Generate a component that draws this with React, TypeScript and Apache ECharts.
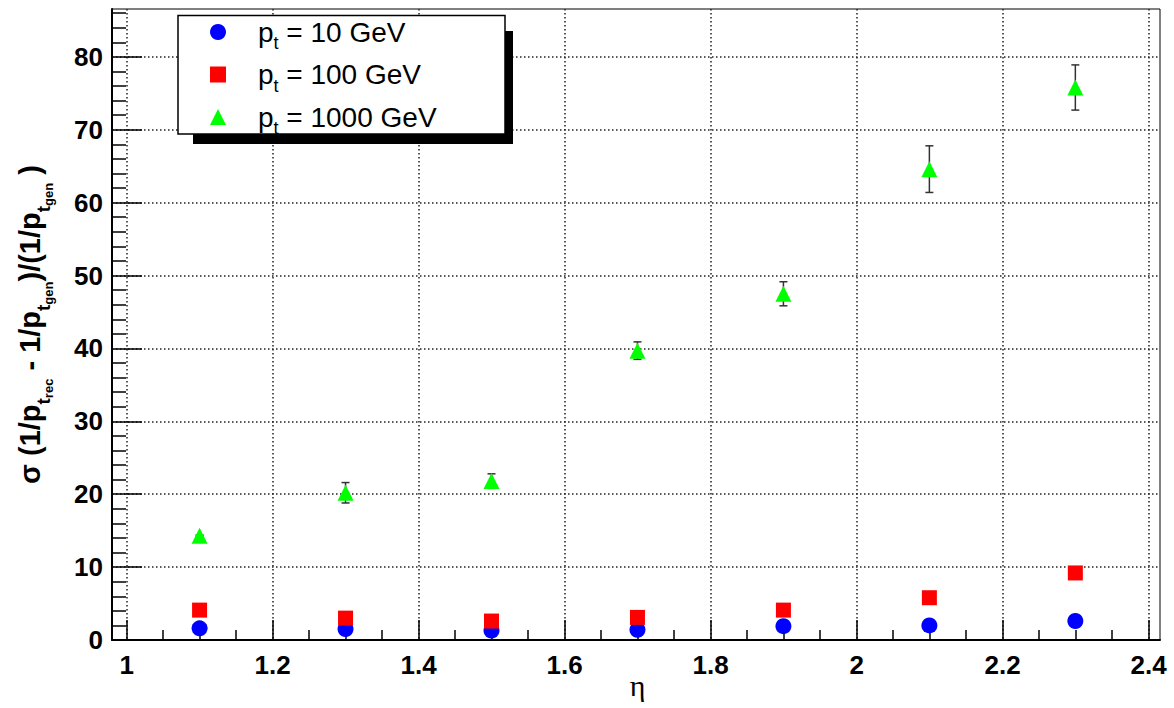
import React, { useEffect, useRef } from "react";
import * as echarts from "echarts";

// ---- data ----
const eta = [1.1, 1.3, 1.5, 1.7, 1.9, 2.1, 2.3];
const pt10 = [1.6, 1.5, 1.3, 1.4, 1.9, 2.0, 2.6];
const pt100 = [4.1, 3.0, 2.6, 3.1, 4.1, 5.8, 9.2];
const pt1000 = [14.3, 20.2, 21.8, 39.7, 47.5, 64.6, 75.8];
const err1000 = [0.1, 1.4, 1.0, 1.2, 1.65, 3.2, 3.1];
const ptLabels = ["10", "100", "1000"];
const seriesNames = ptLabels.map((v) => `p_t = ${v} GeV`);

const FONT = "'Liberation Sans', Arial, Helvetica, sans-serif";

export default function App() {
  const ref = useRef<HTMLDivElement>(null);

  useEffect(() => {
    if (!ref.current) return;
    const chart = echarts.init(ref.current, undefined, { renderer: "svg" });

    const tickLabel = {
      fontFamily: FONT,
      fontSize: 26,
      fontWeight: "bold" as const,
      color: "#000",
    };
    const dotted = { color: "#222", type: [1.5, 2.5] as number[], width: 1.5 };

    const option: any = {
      animation: false,
      backgroundColor: "#fff",
      grid: [
        // data grid (the frame)
        { left: 112, top: 9, width: 1048, height: 631, show: true, borderColor: "#000", borderWidth: 1, backgroundColor: "transparent", outerBoundsMode: "none", containLabel: false },
        // x display grid (1 .. 2.4)
        { left: 126.7, top: 9, width: 1022, height: 631, outerBoundsMode: "none", containLabel: false },
        // y display grid (0 .. 90)
        { left: 112, top: -16, width: 1048, height: 656, outerBoundsMode: "none", containLabel: false },
      ],
      xAxis: [
        {
          type: "value", gridIndex: 0, min: 0.98, max: 2.416,
          axisLine: { show: true, onZero: false, lineStyle: { color: "#000", width: 2 } },
          axisTick: { show: false }, axisLabel: { show: false }, splitLine: { show: false },
        },
        {
          type: "value", gridIndex: 1, min: 1, max: 2.4, interval: 0.2,
          axisLine: { show: false },
          axisTick: { show: true, inside: true, length: 20, lineStyle: { color: "#000", width: 1.5 } },
          minorTick: { show: true, splitNumber: 4, length: 10, lineStyle: { color: "#000", width: 1.5 } },
          axisLabel: { ...tickLabel, margin: 12 },
          splitLine: { show: true, lineStyle: dotted },
          name: "η",
          nameLocation: "middle",
          nameMoveOverlap: false,
          nameGap: 30,
          nameTextStyle: { fontFamily: "'Liberation Serif', 'DejaVu Serif', serif", fontSize: 30, lineHeight: 30, color: "#000" },
        },
        { type: "value", gridIndex: 2, min: 0, max: 1, show: false },
      ],
      yAxis: [
        {
          type: "value", gridIndex: 0, min: 0, max: 86.57,
          axisLine: { show: true, onZero: false, lineStyle: { color: "#000", width: 2 } },
          axisTick: { show: false }, axisLabel: { show: false }, splitLine: { show: false },
          name: "{m|σ (1/p}{s|t}{ss|rec}{m| - 1/p}{s|t}{ss|gen}{m|)/(1/p}{s|t}{ss|gen}{m| )}",
          nameLocation: "middle",
          nameMoveOverlap: false,
          nameRotate: 90,
          nameGap: 62,
          nameTextStyle: {
            fontFamily: FONT,
            color: "#000",
            rich: {
              m: { fontFamily: FONT, fontSize: 29, fontWeight: "bold", lineHeight: 40, color: "#000" },
              s: { fontFamily: FONT, fontSize: 19, fontWeight: "bold", verticalAlign: "bottom", height: 14, lineHeight: 14, color: "#000" },
              ss: { fontFamily: FONT, fontSize: 13, fontWeight: "bold", verticalAlign: "bottom", height: 4, lineHeight: 4, color: "#000" },
            },
          },
        },
        { type: "value", gridIndex: 1, min: 0, max: 1, show: false },
        {
          type: "value", gridIndex: 2, min: 0, max: 90, interval: 10,
          axisLine: { show: false },
          axisTick: { show: true, inside: true, length: 30, lineStyle: { color: "#000", width: 1.5 } },
          minorTick: { show: true, splitNumber: 5, length: 14, lineStyle: { color: "#000", width: 1.5 } },
          axisLabel: { ...tickLabel, margin: 9, showMaxLabel: false },
          splitLine: { show: true, lineStyle: dotted },
        },
      ],
      legend: {
        show: true,
        orient: "vertical",
        left: 210,
        top: 18,
        padding: 0,
        itemGap: 8.5,
        itemWidth: 16,
        itemHeight: 16,
        z: 200,
        data: seriesNames,
        selectedMode: false,
        formatter: (name: string) => {
          const i = seriesNames.indexOf(name);
          return `{g|}{m|p}{s|t}{m| = ${ptLabels[i]} GeV}`;
        },
        textStyle: {
          fontFamily: FONT,
          color: "#000",
          rich: {
            g: { width: 27, lineHeight: 30 },
            m: { fontFamily: FONT, fontSize: 28, lineHeight: 30, color: "#000" },
            s: { fontFamily: FONT, fontSize: 18, verticalAlign: "bottom", height: 8, lineHeight: 8, color: "#000" },
          },
        },
      },
      graphic: [
        { type: "rect", z: 100, shape: { x: 193, y: 134, width: 320, height: 10 }, style: { fill: "#000" } },
        { type: "rect", z: 100, shape: { x: 505, y: 31, width: 8, height: 113 }, style: { fill: "#000" } },
        { type: "rect", z: 101, shape: { x: 178, y: 15.5, width: 327, height: 118.5 }, style: { fill: "#fff", stroke: "#000", lineWidth: 1.5 } },
      ],
      series: [
        {
          type: "custom",
          name: "err1000",
          xAxisIndex: 0,
          yAxisIndex: 0,
          z: 3,
          data: eta.map((x, i) => [x, pt1000[i], err1000[i]]),
          renderItem: (params: any, api: any) => {
            const x = api.value(0);
            const y = api.value(1);
            const e = api.value(2);
            const top = api.coord([x, y + e]);
            const bot = api.coord([x, y - e]);
            const hw = 4;
            const st = { stroke: "#333", lineWidth: 1.5 };
            return {
              type: "group",
              children: [
                { type: "line", shape: { x1: top[0], y1: top[1], x2: bot[0], y2: bot[1] }, style: st },
                { type: "line", shape: { x1: top[0] - hw, y1: top[1], x2: top[0] + hw, y2: top[1] }, style: st },
                { type: "line", shape: { x1: bot[0] - hw, y1: bot[1], x2: bot[0] + hw, y2: bot[1] }, style: st },
              ],
            };
          },
        },
        {
          type: "scatter",
          name: seriesNames[0],
          xAxisIndex: 0,
          yAxisIndex: 0,
          z: 4,
          symbol: "circle",
          symbolSize: 16,
          itemStyle: { color: "#0000ff", opacity: 1 },
          data: eta.map((x, i) => [x, pt10[i]]),
        },
        {
          type: "scatter",
          name: seriesNames[1],
          xAxisIndex: 0,
          yAxisIndex: 0,
          z: 5,
          symbol: "rect",
          symbolSize: 15,
          itemStyle: { color: "#ff0000", opacity: 1 },
          data: eta.map((x, i) => [x, pt100[i]]),
        },
        {
          type: "scatter",
          name: seriesNames[2],
          xAxisIndex: 0,
          yAxisIndex: 0,
          z: 6,
          symbol: "triangle",
          symbolSize: [16, 16],
          itemStyle: { color: "#00ff00", opacity: 1 },
          data: eta.map((x, i) => [x, pt1000[i]]),
        },
      ],
    };

    chart.setOption(option);
    return () => chart.dispose();
  }, []);

  return (
    <div
      ref={ref}
      style={{ position: "absolute", left: 0, top: 0, width: 1174, height: 708, background: "#fff" }}
    />
  );
}
